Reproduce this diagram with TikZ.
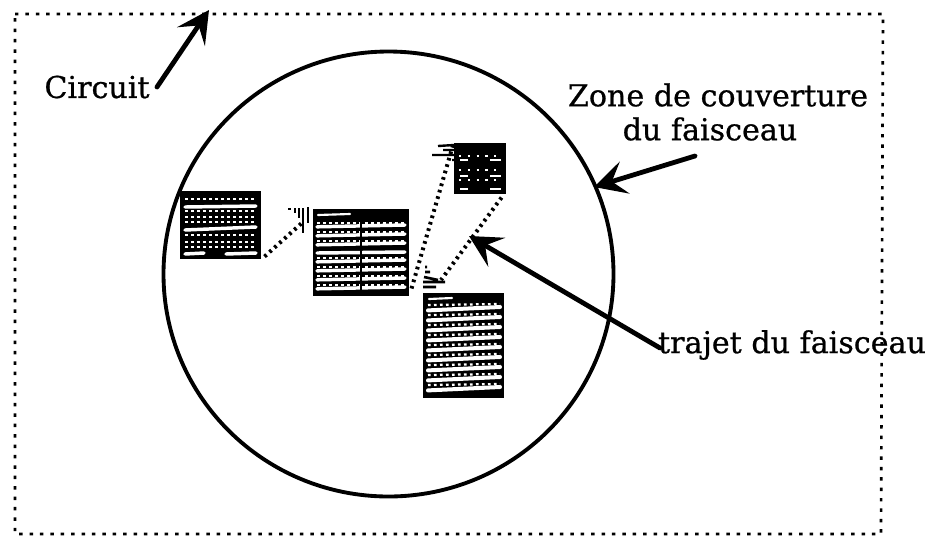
\documentclass[tikz,border=0pt]{standalone}
\usepackage{fontspec}
\setmainfont[FakeBold=0.7]{DejaVu Serif}
\usetikzlibrary{arrows.meta,shapes.geometric}
\tikzset{
  px/.style={x=0.75pt,y=-0.75pt},
  lab/.style={font=\fontsize{22.6}{28}\selectfont,inner sep=0pt,text=black,align=center},
  frame/.style={line width=2pt,dash pattern=on 2.6pt off 5.2pt,black},
  beam/.style={line width=3pt,dash pattern=on 2pt off 3pt,black},
  tick/.style={line width=1.8pt,black},
  pointer/.style={line width=3.6pt,black,line cap=round,-{Stealth[length=24pt,width=25pt,inset=10pt]}},
  bar/.style={white,line width=2.6pt,line cap=round},
  dots/.style={white,line width=2pt,dash pattern=on 1.9pt off 2.6pt}
}
\newcommand{\hatchbox}[5]{%
  \node[inner sep=0pt,minimum width=#4*0.75pt,minimum height=#5*0.75pt,fill=black,anchor=north west] (#1) at (#2,#3) {};
}
\begin{document}
\begin{tikzpicture}[px]
\useasboundingbox (0,0) rectangle (933,537);
\fill[white] (0,0) rectangle (933,537);
% circuit frame
\draw[frame] (15,14) -- (883,14) -- (881,534) -- (15,534) -- cycle;
% coverage circle
\node[draw=black,line width=2.9pt,ellipse,inner sep=0pt,minimum width=450*0.75pt,minimum height=445*0.75pt] (zone) at (388.5,274) {};
% box A
\hatchbox{a}{180}{191}{81}{68}
\draw[bar] (185,207) -- (256,206);
\draw[bar] (185,230) -- (256,227);
\draw[bar] (185,254) -- (204,253) (226,254) -- (256,253);
\foreach \y in {199,211,217,222,235,242,247}{\draw[dots] (185,\y) -- (256,\y);}
% box B
\hatchbox{b}{313}{209}{96}{87}
\foreach \y in {226,235,244,261,270,279,288}{
  \draw[bar] (317,\y+0.8) -- (405,\y-1);
  \draw[dots,line width=1.6pt] (317,\y-3) -- (405,\y-3);}
\draw[bar] (317,253) -- (405,252);
\draw[bar,line width=1.6pt] (318,215) -- (350,214);
\draw[black,line width=1.4pt] (361,212) -- (361,293);
% box C
\hatchbox{c}{454}{143}{52}{51}
\foreach \y in {156,170,180}{\draw[white,line width=1.1pt,dash pattern=on 1.6pt off 5pt] (459,\y) -- (502,\y);}
\foreach \y in {160,176,189}{\draw[white,line width=0.9pt] (460,\y) -- (468,\y);\draw[white,line width=0.9pt] (490,\y) -- (501,\y);}
% box D
\hatchbox{d}{423}{293}{81}{105}
\foreach \y in {309,319,329,339,349,359,369,379,389}{
  \draw[bar,line width=3pt] (428,\y+1.4) -- (500,\y-2);
  \draw[dots,line width=1.7pt] (428,\y-4) -- (500,\y-5);}
\draw[bar,line width=1.6pt] (429,299) -- (452,298);
% beam path
\coordinate (p1) at (303,222);
\coordinate (p2) at (453,145);
\coordinate (p3) at (441,280);
\draw[beam] (a.south east) ++(3,-3) -- (p1);
\draw[beam] (b.south east) ++(2,-8) -- (p2);
\draw[beam] (c.south east) ++(-5,3) -- (p3);
% beam heads
\draw[tick,line width=2pt] (308,207) -- (308,223) (303,208) -- (303,233) (299,208) -- (299,218) (295,208) -- (295,213) (288,209) -- (291,209);
\draw[tick] (438,146) -- (454,145) (432,155) -- (454,155) (443,150) -- (454,150) (452,160) -- (455,160);
\draw[tick,line width=2pt] (424,277) -- (438,280) (423,282) -- (445,282) (423,287) -- (436,287) (425,272) -- (430,272) (425,267) -- (427,267);
% labels
\node[lab,anchor=center] (lcircuit) at (97,87) {Circuit};
\node[lab,anchor=center] (lzone1) at (718,95) {Zone de couverture};
\node[lab,anchor=center] (lzone2) at (710,129) {du faisceau};
\node[lab,anchor=center] (ltrajet) at (792,345) {trajet du faisceau};
% pointers
\coordinate (t1) at (209,10);
\coordinate (s1) at (157,87);
\coordinate (t2) at (594,187);
\coordinate (s2) at (695,156);
\coordinate (t3) at (469,236);
\coordinate (s3) at (660,348);
\draw[pointer] (s1) -- (t1);
\draw[pointer] (s2) -- (t2);
\draw[pointer] (s3) -- (t3);
\end{tikzpicture}
\end{document}
